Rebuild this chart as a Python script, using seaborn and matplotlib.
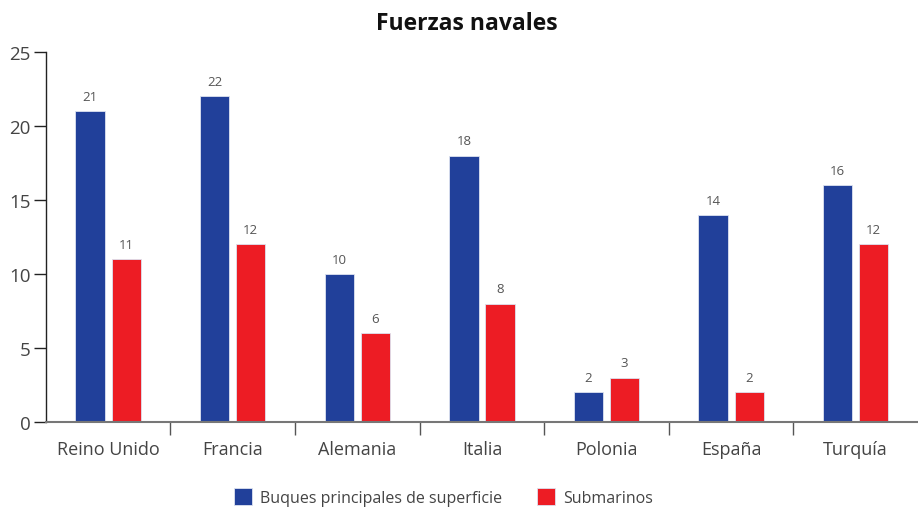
import pandas as pd
import matplotlib.pyplot as plt
import seaborn as sns
from matplotlib.patches import Patch

# Data
countries = ['Reino Unido', 'Francia', 'Alemania', 'Italia', 'Polonia', 'España', 'Turquía']
buques = [21, 22, 10, 18, 2, 14, 16]
submarinos = [11, 12, 6, 8, 3, 2, 12]
series_names = ['Buques principales de superficie', 'Submarinos']
colors = ['#21409a', '#ed1c24']

df = pd.DataFrame({
    'pais': countries * 2,
    'serie': [series_names[0]] * len(countries) + [series_names[1]] * len(countries),
    'valor': buques + submarinos,
})

sns.set_style('white')
plt.rcParams['font.family'] = ['Open Sans', 'DejaVu Sans']
text_color = '#444444'

fig = plt.figure(figsize=(9.18, 5.1), dpi=100)
ax = fig.add_axes([0.050, 0.1706, 0.95, 0.7255])

sns.barplot(data=df, x='pais', y='valor', hue='serie', palette=colors,
            width=0.58, gap=0.19, ax=ax, legend=False, saturation=1,
            edgecolor='#dde3f0', linewidth=0.6)

# value labels
for cont in ax.containers:
    for bar in cont:
        h = bar.get_height()
        ax.text(bar.get_x() + bar.get_width() / 2, h + 0.55, f'{int(h)}',
                ha='center', va='bottom', fontsize=9.5, color='#555555')

ax.set_xlim(-0.5, len(countries) - 0.5)
ax.set_ylim(0, 25)
ax.set_yticks([0, 5, 10, 15, 20, 25])
ax.set_xlabel('')
ax.set_ylabel('')

# category labels centered, ticks at boundaries
ax.set_xticks(range(len(countries)))
ax.set_xticklabels(countries, fontsize=13, color=text_color)
ax.tick_params(axis='x', which='major', length=0, pad=13, bottom=False)
ax.set_xticks([i + 0.5 for i in range(len(countries) - 1)], minor=True)
ax.tick_params(axis='x', which='minor', length=9, width=1, color='#555555',
               direction='out', bottom=True)
ax.tick_params(axis='y', length=9, width=1, color='#222222', labelsize=13.5,
               labelcolor=text_color, direction='out', pad=2, left=True)
ax.yaxis.get_major_ticks()[0].tick1line.set_color('#777777')

for s in ['top', 'right']:
    ax.spines[s].set_visible(False)
ax.spines['left'].set_color('#222222')
ax.spines['left'].set_linewidth(1)
ax.spines['bottom'].set_color('#777777')
ax.spines['bottom'].set_linewidth(1.5)

fig.text(0.509, 0.953, 'Fuerzas navales', ha='center', va='center',
         fontsize=16.5, fontweight='bold', color='#111111')

handles = [Patch(facecolor=c, edgecolor='#dde3f0', linewidth=0.6) for c in colors]
fig.legend(handles, series_names, loc='center', bbox_to_anchor=(0.483, 0.024),
           ncol=2, frameon=False, fontsize=11.5, handlelength=1.1, handleheight=1.3,
           columnspacing=2.2, handletextpad=0.5, labelcolor=text_color)

fig.savefig('out.png', dpi=100)
